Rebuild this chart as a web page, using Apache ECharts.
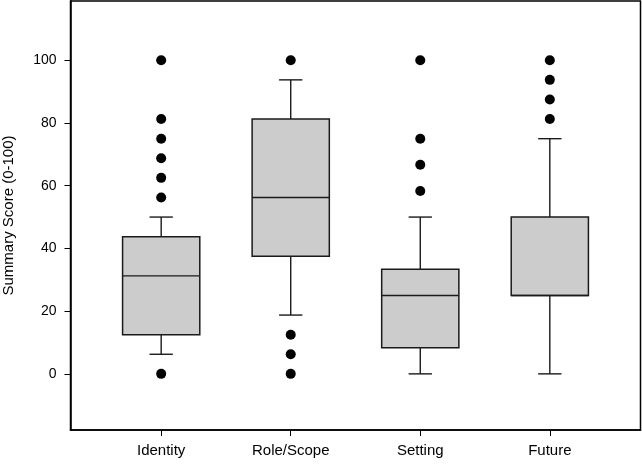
<!DOCTYPE html>
<html>
<head>
<meta charset="utf-8">
<script src="https://cdn.jsdelivr.net/npm/echarts@6/dist/echarts.min.js"></script>
<style>
html,body{margin:0;padding:0;background:#fff;}
#c{width:642px;height:464px;}
</style>
</head>
<body>
<div id="c"></div>
<script>
// ---- data ----
var categories = ['Identity', 'Role/Scope', 'Setting', 'Future'];
var whiskerLow  = [6.25, 18.75, 0, 0];
var q1          = [12.5, 37.5, 8.33, 25];
var median      = [31.25, 56.25, 25, 25];
var q3          = [43.75, 81.25, 33.33, 50];
var whiskerHigh = [50, 93.75, 50, 75];
var outliers = [
  [0, 56.25, 62.5, 68.75, 75, 81.25, 100],
  [0, 6.25, 12.5, 100],
  [58.33, 66.67, 75, 100],
  [81.25, 87.5, 93.75, 100]
];
var yTicks = [0, 20, 40, 60, 80, 100];

// ---- build ----
var boxData = categories.map(function (c, i) {
  return [i + 1, whiskerLow[i], q1[i], median[i], q3[i], whiskerHigh[i]];
});
var outlierData = [];
outliers.forEach(function (arr, i) {
  arr.forEach(function (v) { outlierData.push([i + 1, v]); });
});
var xPositions = categories.map(function (c, i) { return i + 1; });

var BOX_HALF = 0.298;
var CAP_HALF = 0.09;
var lineStyle = { stroke: '#1a1a1a', lineWidth: 1.4, fill: null };

var chart = echarts.init(document.getElementById('c'));
chart.setOption({
  animation: false,
  backgroundColor: '#fff',
  textStyle: { fontFamily: 'Liberation Sans, Arial, sans-serif' },
  grid: {
    left: 70.5, right: 1.5, top: 1, bottom: 34,
    containLabel: false, outerBoundsMode: 'none',
    show: true, borderColor: '#000', borderWidth: 1.5, backgroundColor: 'transparent'
  },
  xAxis: {
    type: 'value', min: 0.3, max: 4.7,
    splitLine: { show: false },
    axisLine: { show: true, onZero: false, lineStyle: { color: '#000', width: 1.5 } },
    axisTick: { show: true, length: 6, customValues: xPositions, lineStyle: { color: '#000' } },
    axisLabel: {
      customValues: xPositions, margin: 13, fontSize: 15, color: '#000',
      formatter: function (v) { return categories[Math.round(v) - 1] || ''; }
    }
  },
  yAxis: {
    type: 'value', min: -17.9, max: 118.9,
    name: 'Summary Score (0-100)', nameLocation: 'middle', nameGap: 54,
    nameTextStyle: { fontSize: 15, color: '#000' },
    splitLine: { show: false },
    axisLine: { show: true, onZero: false, lineStyle: { color: '#000', width: 1.5 } },
    axisTick: { show: true, length: 6, customValues: yTicks, lineStyle: { color: '#000' } },
    axisLabel: { customValues: yTicks, margin: 14, fontSize: 14, color: '#000' }
  },
  series: [
    {
      type: 'custom',
      data: boxData,
      renderItem: function (params, api) {
        var x = api.value(0);
        var lo = api.value(1), a = api.value(2), m = api.value(3), b = api.value(4), hi = api.value(5);
        var pLo = api.coord([x, lo]), pA = api.coord([x, a]), pM = api.coord([x, m]);
        var pB = api.coord([x, b]), pHi = api.coord([x, hi]);
        var xl = api.coord([x - BOX_HALF, 0])[0], xr = api.coord([x + BOX_HALF, 0])[0];
        var cl = api.coord([x - CAP_HALF, 0])[0], cr = api.coord([x + CAP_HALF, 0])[0];
        var children = [
          { type: 'line', shape: { x1: pLo[0], y1: pLo[1], x2: pA[0], y2: pA[1] }, style: lineStyle },
          { type: 'line', shape: { x1: pB[0], y1: pB[1], x2: pHi[0], y2: pHi[1] }, style: lineStyle },
          { type: 'line', shape: { x1: cl, y1: pLo[1], x2: cr, y2: pLo[1] }, style: lineStyle },
          { type: 'line', shape: { x1: cl, y1: pHi[1], x2: cr, y2: pHi[1] }, style: lineStyle },
          { type: 'rect', shape: { x: xl, y: pB[1], width: xr - xl, height: pA[1] - pB[1] },
            style: { fill: '#cccccc', stroke: '#1a1a1a', lineWidth: 1.5 } },
          { type: 'line', shape: { x1: xl, y1: pM[1], x2: xr, y2: pM[1] }, style: lineStyle }
        ];
        return { type: 'group', children: children };
      },
      z: 2
    },
    {
      type: 'scatter',
      data: outlierData,
      symbol: 'circle',
      symbolSize: 10,
      itemStyle: { color: '#000', opacity: 1 },
      z: 3
    }
  ]
});
</script>
</body>
</html>
